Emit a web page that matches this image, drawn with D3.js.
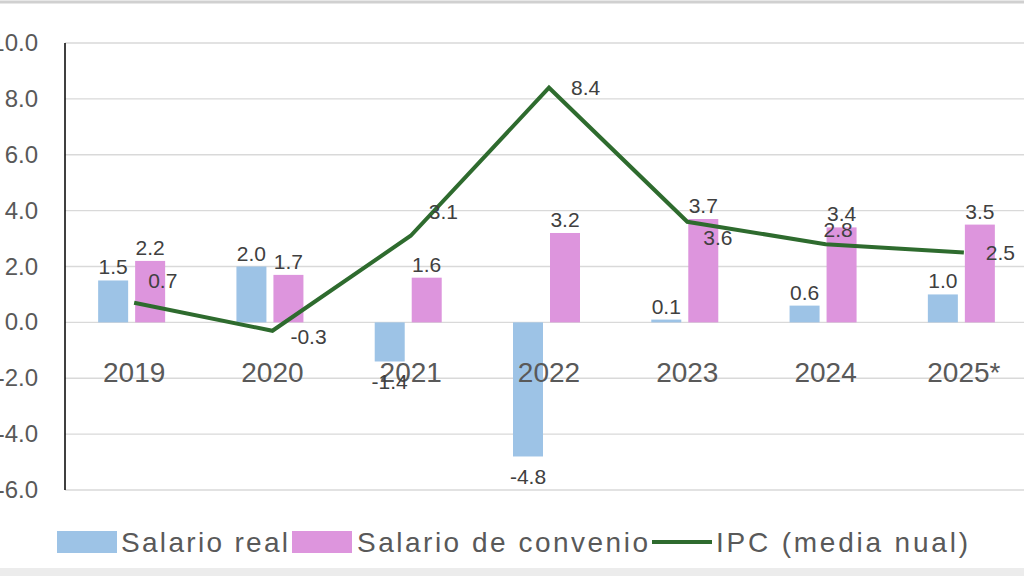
<!DOCTYPE html><html><head><meta charset="utf-8"><script src="https://cdn.jsdelivr.net/npm/d3@7"></script>
<style>body{margin:0;background:#fff}svg{display:block;font-family:Arial,"Liberation Sans",sans-serif}</style></head><body>
<script>
const categories=["2019","2020","2021","2022","2023","2024","2025*"];
const salarioReal=[1.5,2.0,-1.4,-4.8,0.1,0.6,1.0];
const salarioConvenio=[2.2,1.7,1.6,3.2,3.7,3.4,3.5];
const ipc=[0.7,-0.3,3.1,8.4,3.6,2.8,2.5];
const yTicks=[10,8,6,4,2,0,-2,-4,-6];
const ipcLabelOffsets=[[14,-22],[18,6],[18,-24],[22,0],[16,16],[-2,-14],[22,0]];
const W=1024,H=576;
const svg=d3.select("body").append("svg").attr("width",W).attr("height",H);
svg.append("line").attr("x1",0).attr("x2",W).attr("y1",2).attr("y2",2).attr("stroke","#d0d0d0").attr("stroke-width",3);
svg.append("rect").attr("x",0).attr("y",568).attr("width",W).attr("height",8).attr("fill","#ececec");
const y=d3.scaleLinear().domain([-6,10]).range([490,43]);
const x=d3.scaleBand().domain(categories).range([65,1033]);
const bw=30;
svg.append("g").selectAll("line").data(yTicks).join("line").attr("x1",65).attr("x2",W).attr("y1",d=>y(d)).attr("y2",d=>y(d)).attr("stroke","#d9d9d9").attr("stroke-width",1.3);
svg.append("g").selectAll("text").data(yTicks).join("text").attr("x",38).attr("y",d=>y(d)+8).attr("text-anchor","end").attr("font-size",24).attr("fill","#595959").text(d=>d.toFixed(1));
svg.append("line").attr("x1",65).attr("x2",65).attr("y1",43).attr("y2",490).attr("stroke","#000").attr("stroke-width",1.5);
const cx=c=>x(c)+x.bandwidth()/2;
svg.append("g").selectAll("rect").data(salarioReal).join("rect").attr("x",(d,i)=>cx(categories[i])-bw-6).attr("width",bw).attr("y",d=>y(Math.max(0,d))).attr("height",d=>Math.abs(y(d)-y(0))).attr("fill","#9dc3e6");
svg.append("g").selectAll("rect").data(salarioConvenio).join("rect").attr("x",(d,i)=>cx(categories[i])+1).attr("width",bw).attr("y",d=>y(Math.max(0,d))).attr("height",d=>Math.abs(y(d)-y(0))).attr("fill","#dd95dd");
svg.append("g").selectAll("text").data(categories).join("text").attr("x",d=>cx(d)).attr("y",382).attr("text-anchor","middle").attr("font-size",28).attr("fill","#595959").text(d=>d);
const line=d3.line().x((d,i)=>cx(categories[i])).y(d=>y(d));
svg.append("path").datum(ipc).attr("d",line).attr("fill","none").attr("stroke","#2e6b2e").attr("stroke-width",4);
function T(g,data,fx,fy,anchor){g.selectAll("text").data(data).join("text").attr("x",fx).attr("y",fy).attr("text-anchor",anchor||"middle").attr("font-size",21).attr("fill","#404040").text(d=>d.toFixed(1));}
T(svg.append("g"),salarioReal,(d,i)=>cx(categories[i])-bw/2-6,d=>d>=0?y(d)-6:y(d)+28);
T(svg.append("g"),salarioConvenio,(d,i)=>cx(categories[i])+bw/2+1,d=>y(d)-6);
T(svg.append("g"),ipc,(d,i)=>cx(categories[i])+ipcLabelOffsets[i][0],(d,i)=>y(d)+ipcLabelOffsets[i][1]+7,"start");
const lg=svg.append("g").attr("font-size",28).attr("fill","#595959");
lg.append("rect").attr("x",57).attr("y",531).attr("width",60).attr("height",22).attr("fill","#9dc3e6");
lg.append("text").attr("x",121).attr("y",552).attr("textLength",167).text("Salario real");
lg.append("rect").attr("x",292).attr("y",531).attr("width",60).attr("height",22).attr("fill","#dd95dd");
lg.append("text").attr("x",357).attr("y",552).attr("textLength",291).text("Salario de convenio");
lg.append("line").attr("x1",652).attr("x2",712).attr("y1",542).attr("y2",542).attr("stroke","#2e6b2e").attr("stroke-width",4);
lg.append("text").attr("x",716).attr("y",552).attr("textLength",252).text("IPC (media nual)");
</script></body></html>
